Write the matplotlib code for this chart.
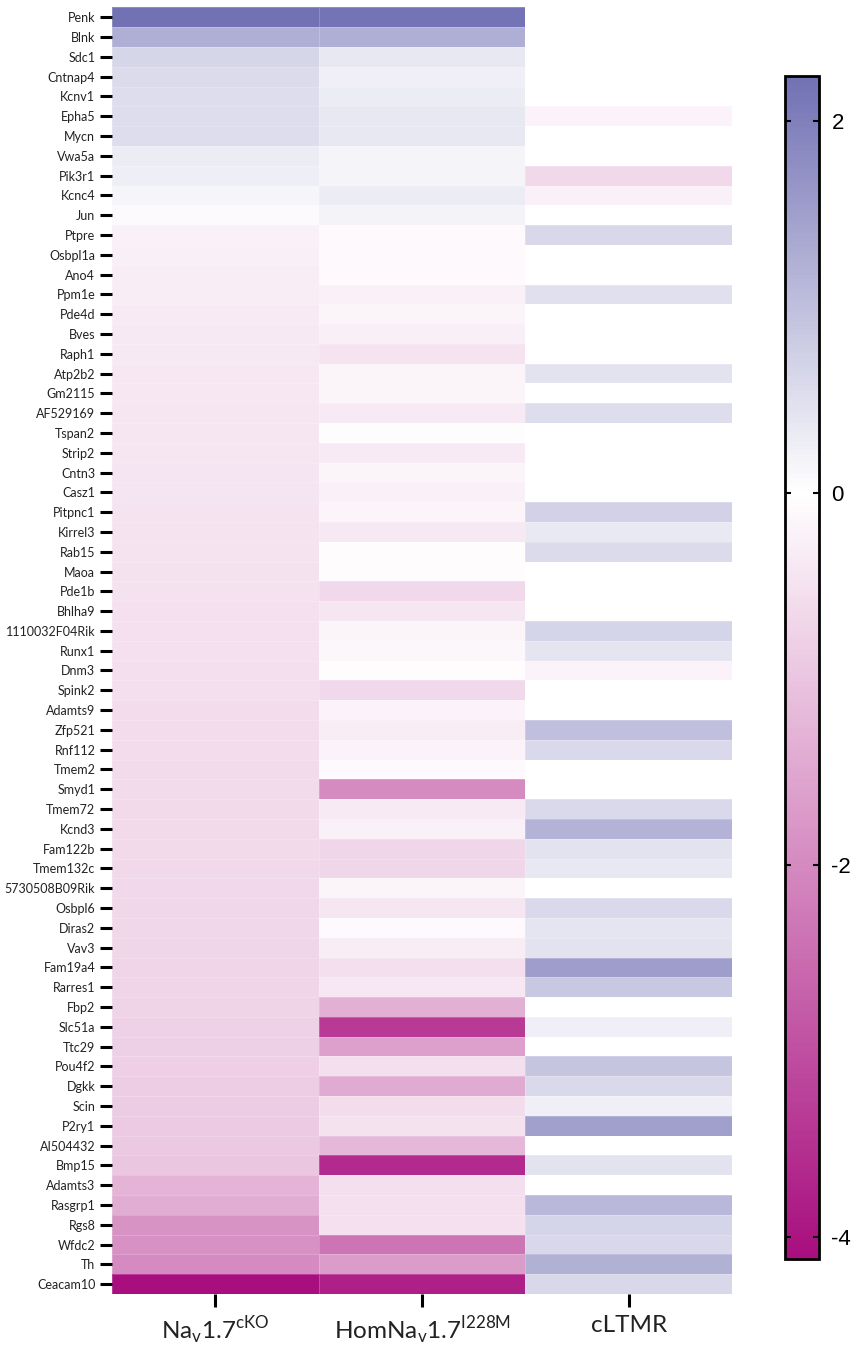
import numpy as np
import matplotlib
matplotlib.use("Agg")
import matplotlib.pyplot as plt
from matplotlib.colors import LinearSegmentedColormap, Normalize

# Gene rows (top to bottom)
genes = [
    "Penk", "Blnk", "Sdc1", "Cntnap4", "Kcnv1", "Epha5", "Mycn", "Vwa5a",
    "Pik3r1", "Kcnc4", "Jun", "Ptpre", "Osbpl1a", "Ano4", "Ppm1e", "Pde4d",
    "Bves", "Raph1", "Atp2b2", "Gm2115", "AF529169", "Tspan2", "Strip2",
    "Cntn3", "Casz1", "Pitpnc1", "Kirrel3", "Rab15", "Maoa", "Pde1b",
    "Bhlha9", "1110032F04Rik", "Runx1", "Dnm3", "Spink2", "Adamts9",
    "Zfp521", "Rnf112", "Tmem2", "Smyd1", "Tmem72", "Kcnd3", "Fam122b",
    "Tmem132c", "5730508B09Rik", "Osbpl6", "Diras2", "Vav3", "Fam19a4",
    "Rarres1", "Fbp2", "Slc51a", "Ttc29", "Pou4f2", "Dgkk", "Scin", "P2ry1",
    "AI504432", "Bmp15", "Adamts3", "Rasgrp1", "Rgs8", "Wfdc2", "Th",
    "Ceacam10",
]

# Column labels
conditions = [r"Na$_\mathregular{v}$1.7$^\mathregular{cKO}$",
              r"HomNa$_\mathregular{v}$1.7$^\mathregular{I228M}$",
              "cLTMR"]

# log2 fold change per condition (nan = not detected)
nav17_cko = [
    2.24, 1.25, 0.64, 0.56, 0.55, 0.55, 0.55, 0.30,
    0.27, 0.14, -0.08, -0.26, -0.29, -0.31, -0.33, -0.36,
    -0.38, -0.39, -0.40, -0.41, -0.42, -0.43, -0.44,
    -0.45, -0.46, -0.47, -0.48, -0.49, -0.50, -0.51,
    -0.52, -0.53, -0.54, -0.55, -0.56, -0.57,
    -0.58, -0.59, -0.60, -0.61, -0.62, -0.63, -0.64,
    -0.65, -0.66, -0.67, -0.68, -0.70, -0.72,
    -0.74, -0.76, -0.78, -0.80, -0.82, -0.85, -0.88, -0.91,
    -0.94, -0.97, -1.30, -1.40, -1.84, -1.88, -1.96,
    -4.12,
]
hom_i228m = [
    2.20, 1.25, 0.37, 0.24, 0.30, 0.37, 0.37, 0.17,
    0.17, 0.29, 0.19, -0.12, -0.12, -0.12, -0.26, -0.17,
    -0.27, -0.48, -0.19, -0.17, -0.36, -0.03, -0.36,
    -0.18, -0.25, -0.17, -0.37, -0.07, -0.05, -0.65,
    -0.44, -0.18, -0.13, -0.07, -0.66, -0.20,
    -0.34, -0.20, -0.10, -1.99, -0.36, -0.26, -0.70,
    -0.71, -0.17, -0.43, -0.10, -0.34, -0.56,
    -0.41, -1.36, -3.35, -1.62, -0.56, -1.46, -0.57, -0.51,
    -1.23, -3.64, -0.56, -0.53, -0.53, -2.38, -1.69,
    -3.80,
]
nan = np.nan
cltmr = [
    nan, nan, nan, nan, nan, -0.20, nan, nan,
    -0.65, -0.26, nan, 0.62, nan, nan, 0.49, nan,
    nan, nan, 0.45, nan, 0.54, nan, nan,
    nan, nan, 0.70, 0.35, 0.57, nan, nan,
    nan, 0.67, 0.42, -0.20, nan, nan,
    0.98, 0.59, nan, nan, 0.60, 1.19, 0.45,
    0.37, nan, 0.59, 0.41, 0.45, 1.52,
    0.86, nan, 0.24, nan, 0.92, 0.59, 0.25, 1.48,
    nan, 0.43, nan, 1.10, 0.65, 0.62, 1.24,
    0.62,
]

vmin, vmax = -4.12, 2.24

data = np.column_stack([nav17_cko, hom_i228m, cltmr])
masked = np.ma.masked_invalid(data)

# Diverging map: magenta (down) -> white at 0 -> purple (up)
mid = (0 - vmin) / (vmax - vmin)
cmap = LinearSegmentedColormap.from_list(
    "magenta_purple",
    [(0.0, "#A80E7E"), (mid, "#FFFFFF"), (1.0, "#7271B4")],
)
cmap.set_bad("white")
norm = Normalize(vmin=vmin, vmax=vmax)

W, H = 853, 1347
fig = plt.figure(figsize=(W / 100, H / 100), dpi=100)

ax = fig.add_axes([112 / W, 1 - 1294 / H, (732 - 112) / W, (1294 - 7.4) / H])
n_rows, n_cols = data.shape
mesh = ax.pcolormesh(np.arange(n_cols + 1), np.arange(n_rows + 1), masked,
                     cmap=cmap, norm=norm, edgecolors=(1, 1, 1, 0.2),
                     linewidth=0.4)
ax.set_xlim(0, n_cols)
ax.set_ylim(n_rows, 0)
for s in ax.spines.values():
    s.set_visible(False)

ax.set_yticks(np.arange(n_rows) + 0.5)
ax.set_yticklabels(genes, family=["Lato", "DejaVu Sans"], fontsize=9.0,
                   color="#222222")
ax.set_xticks(np.arange(n_cols) + 0.5)
ax.set_xticklabels(conditions, family=["Lato", "DejaVu Sans"], fontsize=17.5,
                   color="#222222")
ax.tick_params(axis="y", length=9, width=2.2, pad=3, color="black")
ax.tick_params(axis="x", length=9, width=2.2, pad=6, color="black")

cax = fig.add_axes([785 / W, 1 - 1259 / H, 34 / W, (1259 - 76) / H])
cb = fig.colorbar(mesh, cax=cax)
cb.set_ticks([2, 0, -2, -4])
cb.ax.set_yticklabels(["2", "0", "-2", "-4"])
cb.outline.set_linewidth(2)
cb.ax.tick_params(direction="in", left=True, right=True, length=4, width=1.5,
                  labelsize=16, pad=9)
for t in cb.ax.get_yticklabels():
    t.set_family(["Liberation Sans", "DejaVu Sans"])

fig.savefig("out.png", dpi=100)
